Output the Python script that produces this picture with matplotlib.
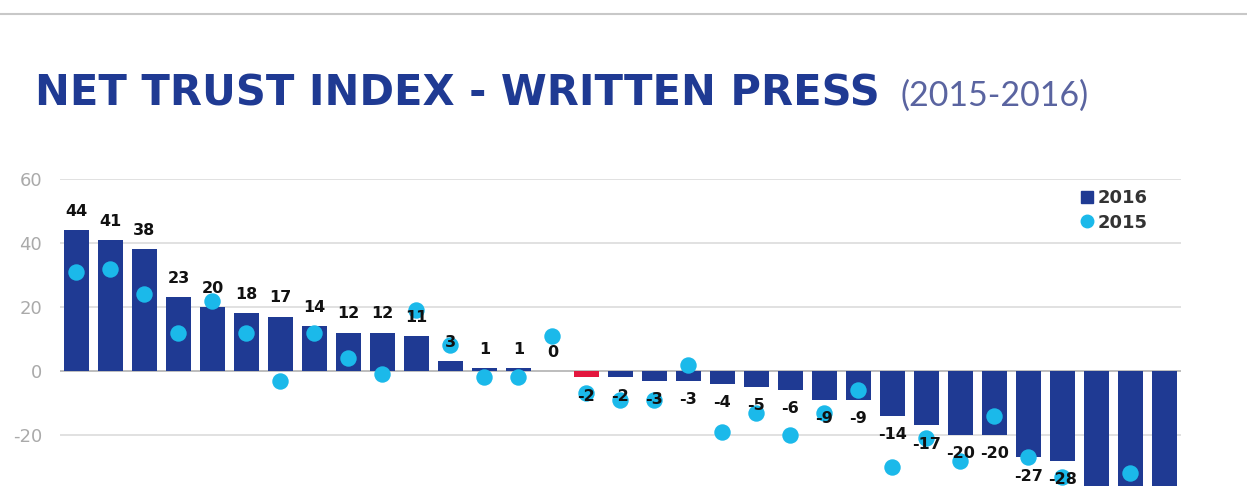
import matplotlib
matplotlib.use("Agg")
from matplotlib import pyplot as plt
from matplotlib.lines import Line2D

# 2016 net trust values (bars), ordered as in the chart
values_2016 = [44, 41, 38, 23, 20, 18, 17, 14, 12, 12, 11, 3, 1, 1, 0,
               -2, -2, -3, -3, -4, -5, -6, -9, -9, -14, -17, -20, -20,
               -27, -28, -38, -40, -45]
# 2015 values (dots)
values_2015 = [31, 32, 24, 12, 22, 12, -3, 12, 4, -1, 19, 8, -2, -2, 11,
               -7, -9, -9, 2, -19, -13, -20, -13, -6, -30, -21, -28, -14,
               -27, -33, -40, -32, -42]
labels_2016 = [str(v) for v in values_2016[:30]]
highlight = 15  # red bar

BLUE = "#1f3a93"
RED = "#e3173e"
CYAN = "#1bb9ea"
GRAY = "#aaaaaa"

fig = plt.figure(figsize=(12.47, 4.86), dpi=100)
ax = fig.add_axes([60 / 1247, 0, 1121 / 1247, 307 / 486])

x = list(range(len(values_2016)))
colors = [RED if i == highlight else BLUE for i in x]
ax.bar(x, values_2016, width=0.735, color=colors, zorder=2)
ax.scatter(x, values_2015, s=140, color=CYAN, zorder=3, linewidths=0)

for i, lab in enumerate(labels_2016):
    v = values_2016[i]
    if v >= 0:
        ax.annotate(lab, (i, v), xytext=(0, 8), textcoords="offset points",
                    ha="center", va="bottom", fontsize=11.5, fontweight="heavy",
                    color="#111111", zorder=4, annotation_clip=False)
    else:
        ax.annotate(lab, (i, v), xytext=(0, -8), textcoords="offset points",
                    ha="center", va="top", fontsize=11.5, fontweight="heavy",
                    color="#111111", zorder=4, annotation_clip=False)

ax.set_xlim(-0.485, 32.49)
ax.set_ylim(-35.94, 60)
ax.set_yticks([60, 40, 20, 0, -20])
ax.set_yticklabels(["60", "40", "20", "0", "-20"])
ax.tick_params(axis="y", length=0, pad=13, labelsize=13, labelcolor=GRAY)
ax.set_xticks([])
for s in ax.spines.values():
    s.set_visible(False)
for g in [60, 40, 20, -20]:
    ax.axhline(g, color="#dcdcdc", lw=1.2, zorder=1)
ax.axhline(0, color="#bdbdbd", lw=1.4, zorder=1)

handles = [Line2D([], [], marker="s", color=BLUE, ls="None", markersize=8),
           Line2D([], [], marker="o", color=CYAN, ls="None", markersize=9)]
leg = ax.legend(handles, ["2016", "2015"], loc="upper right",
                bbox_to_anchor=(0.977, 0.99), frameon=False,
                prop={"weight": "bold", "size": 13}, handletextpad=0.1,
                labelspacing=0.35, handlelength=1.0, borderaxespad=0)
for t in leg.get_texts():
    t.set_color("#333333")

# page elements
fig.add_artist(Line2D([0, 1], [1 - 14 / 486] * 2, color="#c8c8c8", lw=1.5))
fig.text(35 / 1247, 1 - 106 / 486, "NET TRUST INDEX - WRITTEN PRESS",
         fontsize=30, fontweight="heavy", color=BLUE, ha="left", va="baseline")
fig.text(900 / 1247, 1 - 106 / 486, "(2015-2016)", fontsize=24.5,
         family="Lato", fontweight="normal", color="#5a64a0", ha="left",
         va="baseline")

fig.savefig("out.png", dpi=100)
